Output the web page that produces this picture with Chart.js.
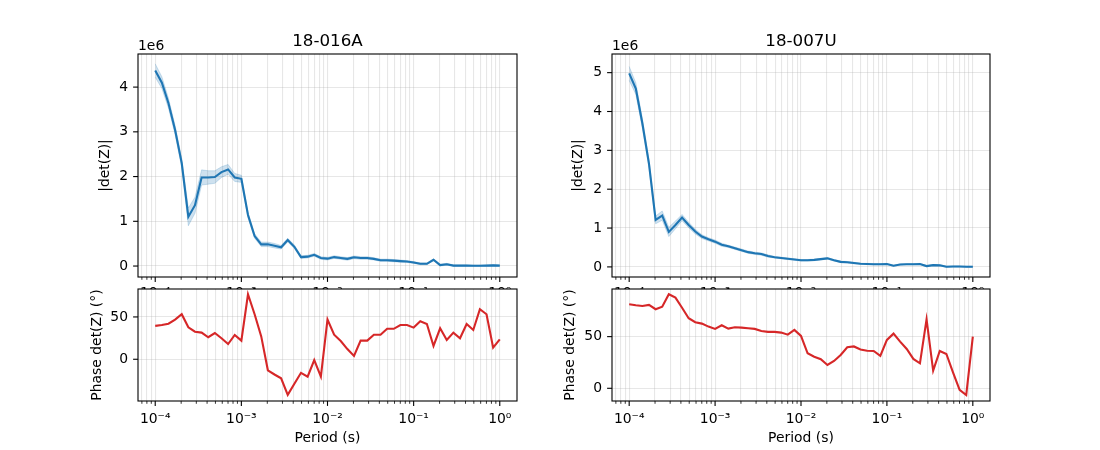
<!DOCTYPE html>
<html>
<head>
<meta charset="utf-8">
<script src="https://cdn.jsdelivr.net/npm/chart.js@4.4.1/dist/chart.umd.min.js"></script>
<style>
  body { margin: 0; background: #fff; }
  #wrap { position: relative; width: 1100px; height: 450px; overflow: hidden; }
  canvas { position: absolute; }
</style>
</head>
<body>
<div id="wrap">
  <canvas id="magA" style="left:0;top:0" width="550" height="300"></canvas>
  <canvas id="magB" style="left:550px;top:0" width="550" height="300"></canvas>
  <canvas id="phaA" style="left:0;top:270px" width="550" height="180"></canvas>
  <canvas id="phaB" style="left:550px;top:270px" width="550" height="180"></canvas>
</div>
<script>
// periods (s), 13 per decade
const periods = [
  1.000e-4, 1.194e-4, 1.425e-4, 1.701e-4, 2.031e-4, 2.424e-4, 2.894e-4, 3.455e-4, 4.125e-4, 4.924e-4, 5.878e-4, 7.017e-4, 8.377e-4,
  1.000e-3, 1.194e-3, 1.425e-3, 1.701e-3, 2.031e-3, 2.424e-3, 2.894e-3, 3.455e-3, 4.125e-3, 4.924e-3, 5.878e-3, 7.017e-3, 8.377e-3,
  1.000e-2, 1.194e-2, 1.425e-2, 1.701e-2, 2.031e-2, 2.424e-2, 2.894e-2, 3.455e-2, 4.125e-2, 4.924e-2, 5.878e-2, 7.017e-2, 8.377e-2,
  1.000e-1, 1.194e-1, 1.425e-1, 1.701e-1, 2.031e-1, 2.424e-1, 2.894e-1, 3.455e-1, 4.125e-1, 4.924e-1, 5.878e-1, 7.017e-1, 8.377e-1,
  1.000
]

// station 18-016A  (|det(Z)| in units of 1e6)
const magA = [4.37, 4.10, 3.64, 3.04, 2.30, 1.10, 1.36, 1.98, 1.98, 1.99, 2.10, 2.16, 1.98, 1.95, 1.14, 0.67, 0.485, 0.485, 0.455, 0.42,
  0.58, 0.43, 0.20, 0.21, 0.25, 0.18, 0.165, 0.20, 0.18, 0.16, 0.195, 0.18, 0.18, 0.16, 0.13, 0.13, 0.12, 0.11, 0.10, 0.08,
  0.05, 0.05, 0.14, 0.02, 0.04, 0.01, 0.01, 0.01, 0.005, 0.005, 0.01, 0.015, 0.01]
const errA = [0.15, 0.13, 0.11, 0.10, 0.10, 0.20, 0.18, 0.17, 0.15, 0.14, 0.12, 0.11, 0.09, 0.08, 0.06, 0.05, 0.05, 0.05, 0.05, 0.04,
  0.04, 0.04, 0.03, 0.03, 0.03, 0.03, 0.03, 0.03, 0.03, 0.03, 0.03, 0.03, 0.03, 0.025, 0.025, 0.025, 0.025, 0.025, 0.02, 0.02,
  0.02, 0.02, 0.02, 0.02, 0.02, 0.015, 0.015, 0.015, 0.015, 0.015, 0.015, 0.015, 0.015]
const phaseA = [39.4, 40.5, 42, 46.8, 53.2, 37.8, 32.6, 31.5, 26, 31, 24.8, 18, 28.7, 22, 76.8, 53.2, 27, -13, -18, -22.5,
  -42, -29, -16, -20.5, -1, -20.5, 47, 29, 21.6, 12, 4, 22, 22, 29, 29, 36, 36, 40.5, 40.5, 37.4,
  44.9, 41.7, 15.7, 36.6, 22.8, 31.5, 24.8, 41.7, 34.6, 59.1, 53.2, 13.7, 23.6]

// station 18-007U
const magB = [4.98, 4.59, 3.69, 2.65, 1.21, 1.32, 0.90, 1.08, 1.27, 1.08, 0.91, 0.78, 0.71, 0.65, 0.57, 0.53, 0.48, 0.43, 0.38, 0.35,
  0.33, 0.28, 0.25, 0.23, 0.21, 0.19, 0.17, 0.17, 0.18, 0.20, 0.22, 0.17, 0.13, 0.12, 0.10, 0.08, 0.075, 0.07, 0.07, 0.075,
  0.03, 0.06, 0.07, 0.07, 0.075, 0.02, 0.045, 0.04, 0.005, 0.01, 0.01, 0.005, 0.005]
const errB = [0.18, 0.15, 0.12, 0.10, 0.10, 0.12, 0.12, 0.10, 0.08, 0.07, 0.06, 0.05, 0.04, 0.04, 0.04, 0.03, 0.03, 0.03, 0.03, 0.03,
  0.03, 0.03, 0.02, 0.02, 0.02, 0.02, 0.02, 0.02, 0.02, 0.02, 0.02, 0.02, 0.02, 0.02, 0.02, 0.015, 0.015, 0.015, 0.015, 0.015,
  0.015, 0.015, 0.015, 0.015, 0.015, 0.015, 0.015, 0.015, 0.015, 0.015, 0.015, 0.015, 0.015]
const phaseB = [81.4, 80.4, 79.7, 80.7, 76.5, 79, 91, 87.8, 78, 67.8, 63.9, 62.6, 59.7, 57.5, 61, 57.8, 59.1, 58.7, 58.1, 57.5,
  55.5, 54.6, 54.6, 53.9, 51.9, 56.5, 50.7, 33.9, 30.6, 28.1, 22.6, 26.5, 32.3, 39.7, 40.5, 37.5, 36.4, 36.1, 31.3, 46.8,
  52.9, 45.2, 38.1, 28.4, 24.2, 66.8, 17.1, 36.1, 33.2, 15.5, -1.6, -6.5, 50]

const magTicksA = [0, 1, 2, 3, 4]
const magTicksB = [0, 1, 2, 3, 4, 5]
const phaseTicks = [0, 50]

const FS = 13.9
const xMin = Math.pow(10, -4.2), xMax = Math.pow(10, 0.2)
const gridCol = 'rgba(176,176,176,0.3)'
Chart.defaults.font.family = 'DejaVu Sans'
Chart.defaults.color = '#000'

// all 1..9 x 10^n positions inside the x range (minor + major grid)
let logTicks = []
for (let e = -5; e <= 0; e++)
  for (let m = 1; m <= 9; m++) {
    let v = m * Math.pow(10, e)
    if (v >= xMin && v <= xMax) logTicks.push(v)
  }

let isPow10 = v => { let e = Math.log10(v); return Math.abs(e - Math.round(e)) < 1e-6 }
const sup = { '-': '\u207B', '0': '\u2070', '1': '\u00B9', '2': '\u00B2', '3': '\u00B3', '4': '\u2074' }
let logLabel = v => isPow10(v) ? '10' + String(Math.round(Math.log10(v))).split('').map(c => sup[c]).join('') : ''

let decor = cfg => ({
  id: 'decor',
  beforeDraw: chart => {
    const { ctx, chartArea: a } = chart
    ctx.save()
    ctx.fillStyle = '#fff'
    ctx.fillRect(a.left, a.top, a.right - a.left, a.bottom - a.top)
    ctx.restore()
  },
  afterDraw: chart => {
    const { ctx, chartArea: a, scales } = chart
    ctx.save()
    ctx.strokeStyle = '#000'
    scales.x.ticks.forEach(t => {
      let px = scales.x.getPixelForValue(t.value)
      let major = isPow10(t.value)
      ctx.lineWidth = major ? 1.1 : 0.8
      ctx.beginPath()
      ctx.moveTo(px, a.bottom)
      ctx.lineTo(px, a.bottom + (major ? 4.9 : 2.8))
      ctx.stroke()
    })
    ctx.lineWidth = 1.1
    scales.y.ticks.forEach(t => {
      let py = scales.y.getPixelForValue(t.value)
      ctx.beginPath()
      ctx.moveTo(a.left, py)
      ctx.lineTo(a.left - 4.9, py)
      ctx.stroke()
    })
    ctx.strokeRect(a.left, a.top, a.right - a.left, a.bottom - a.top)

    ctx.fillStyle = '#000'
    if (cfg.title) {
      ctx.font = '16.7px "DejaVu Sans"'
      ctx.textAlign = 'center'
      ctx.textBaseline = 'alphabetic'
      ctx.fillText(cfg.title, (a.left + a.right) / 2, a.top - 8.3)
    }
    ctx.font = FS + 'px "DejaVu Sans"'
    if (cfg.offset) {
      ctx.textAlign = 'left'
      ctx.textBaseline = 'alphabetic'
      ctx.fillText(cfg.offset, a.left, a.top - 4)
    }
    if (cfg.xlabel) {
      ctx.textAlign = 'center'
      ctx.textBaseline = 'middle'
      ctx.fillText(cfg.xlabel, (a.left + a.right) / 2, a.bottom + 37)
    }
    ctx.translate(a.left - cfg.ylabelGap, (a.top + a.bottom) / 2)
    ctx.rotate(-Math.PI / 2)
    ctx.textAlign = 'center'
    ctx.textBaseline = 'middle'
    ctx.fillText(cfg.ylabel, 0, 0)
    ctx.restore()
  }
})

let makeChart = (id, datasets, o) => new Chart(document.getElementById(id), {
  type: 'line',
  data: { datasets },
  options: {
    responsive: false,
    animation: false,
    events: [],
    layout: { padding: o.padding },
    plugins: { legend: { display: false }, tooltip: { enabled: false } },
    scales: {
      x: {
        type: 'logarithmic', min: xMin, max: xMax,
        afterBuildTicks: s => { s.ticks = logTicks.map(v => ({ value: v })) },
        afterFit: s => { s.height = o.xHeight },
        grid: { color: gridCol, lineWidth: 1.1, drawTicks: false },
        border: { display: false },
        ticks: { autoSkip: false, maxRotation: 0, minRotation: 0, padding: o.xPad, font: { size: FS }, callback: v => logLabel(v) }
      },
      y: {
        min: o.yMin, max: o.yMax,
        afterBuildTicks: s => { s.ticks = o.yTicks.map(v => ({ value: v })) },
        afterFit: s => { s.width = o.yWidth },
        grid: { color: gridCol, lineWidth: 1.1, drawTicks: false },
        border: { display: false },
        ticks: { padding: 10, font: { size: FS }, callback: v => String(v) }
      }
    }
  },
  plugins: [decor(o.decor)]
})

let magSets = (mag, err) => [
  { data: periods.map((p, i) => ({ x: p, y: mag[i] - err[i] })), borderColor: 'rgba(31,119,180,0.2)', borderWidth: 1, pointRadius: 0, fill: false },
  { data: periods.map((p, i) => ({ x: p, y: mag[i] + err[i] })), borderColor: 'rgba(31,119,180,0.2)', borderWidth: 1, pointRadius: 0,
    fill: '-1', backgroundColor: 'rgba(31,119,180,0.22)' },
  { data: periods.map((p, i) => ({ x: p, y: mag[i] })), borderColor: '#1f77b4', borderWidth: 2.1, pointRadius: 0, fill: false }
]
let phaseSets = ph => [
  { data: periods.map((p, i) => ({ x: p, y: ph[i] })), borderColor: '#d62728', borderWidth: 2.1, pointRadius: 0, fill: false }
]

makeChart('magA', magSets(magA, errA), {
  padding: { left: 20, top: 54, right: 33, bottom: 0 }, yWidth: 118, xHeight: 23, xPad: 8,
  yMin: -0.245, yMax: 4.74, yTicks: magTicksA,
  decor: { title: '18-016A', offset: '1e6', ylabel: '|det(Z)|', ylabelGap: 33 }
})
makeChart('magB', magSets(magB, errB), {
  padding: { left: 10, top: 54, right: 110, bottom: 0 }, yWidth: 52, xHeight: 23, xPad: 8,
  yMin: -0.26, yMax: 5.48, yTicks: magTicksB,
  decor: { title: '18-007U', offset: '1e6', ylabel: '|det(Z)|', ylabelGap: 34 }
})
makeChart('phaA', phaseSets(phaseA), {
  padding: { left: 20, top: 19, right: 33, bottom: 0 }, yWidth: 118, xHeight: 49, xPad: 10,
  yMin: -49.3, yMax: 83, yTicks: phaseTicks,
  decor: { ylabel: 'Phase det(Z) (\u00B0)', ylabelGap: 41, xlabel: 'Period (s)' }
})
makeChart('phaB', phaseSets(phaseB), {
  padding: { left: 10, top: 19, right: 110, bottom: 0 }, yWidth: 52, xHeight: 49, xPad: 10,
  yMin: -12.3, yMax: 96.1, yTicks: phaseTicks,
  decor: { ylabel: 'Phase det(Z) (\u00B0)', ylabelGap: 42, xlabel: 'Period (s)' }
})
</script>
</body>
</html>
